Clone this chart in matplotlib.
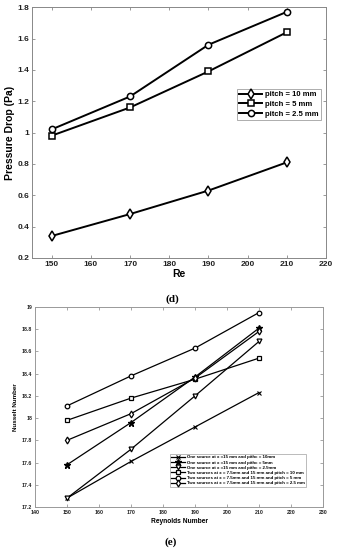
import matplotlib.pyplot as plt

# (d) pressure drop
re_d = [150, 170, 190, 210]
dp_pitch10 = [0.34, 0.48, 0.63, 0.81]
dp_pitch5 = [0.98, 1.16, 1.39, 1.64]
dp_pitch25 = [1.02, 1.23, 1.56, 1.77]
labels_d = ['pitch = 10 mm', 'pitch = 5 mm', 'pitch = 2.5 mm']
yticks_d = [0.2, 0.4, 0.6, 0.8, 1, 1.2, 1.4, 1.6, 1.8]
xticks_d = [150, 160, 170, 180, 190, 200, 210, 220]

# (e) Nusselt number
re_e = [150, 170, 190, 210]
nu_one10 = [17.28, 17.61, 17.92, 18.23]
nu_one5 = [17.58, 17.96, 18.37, 18.81]
nu_one25 = [17.28, 17.72, 18.20, 18.69]
nu_two10 = [17.98, 18.18, 18.35, 18.54]
nu_two5 = [18.11, 18.38, 18.63, 18.95]
nu_two25 = [17.80, 18.04, 18.36, 18.78]
labels_e = ['One source at x =15 mm and pithc = 10mm',
            'One source at x =15 mm and pithc = 5mm',
            'One source at x =15 mm and pithc = 2.5mm',
            'Two sources at x = 7.5mm and 15 mm and pitch = 10 mm',
            'Two sources at x = 7.5mm and 15 mm and pitch = 5 mm',
            'Two sources at x = 7.5mm and 15 mm and pitch = 2.5 mm']
yticks_e = [17.2, 17.4, 17.6, 17.8, 18, 18.2, 18.4, 18.6, 18.8, 19]
xticks_e = [140, 150, 160, 170, 180, 190, 200, 210, 220, 230]

plt.rcParams['font.family'] = ['Liberation Sans', 'DejaVu Sans']
fig = plt.figure(figsize=(3.38, 5.5), dpi=100)

def style_axes(ax, size, col):
    ax.tick_params(direction='in', top=True, right=True, labelsize=size,
                   colors=col, length=2.5, width=0.6, labelcolor='#222222', pad=2)
    for s in ax.spines.values():
        s.set_color(col)
        s.set_linewidth(0.7)

# ---- (d)
ax1 = fig.add_axes([0.0947, 0.531, 0.87, 0.456])
ax1.plot(re_d, dp_pitch10, '-d', color='k', lw=1.4, ms=5, mfc='white', mew=1.1, label=labels_d[0])
ax1.plot(re_d, dp_pitch5, '-s', color='k', lw=1.4, ms=4, mfc='white', mew=1.1, label=labels_d[1])
ax1.plot(re_d, dp_pitch25, '-o', color='k', lw=1.4, ms=4.5, mfc='white', mew=1.1, label=labels_d[2])
ax1.set_xlim(145, 220)
ax1.set_ylim(0.2, 1.8)
ax1.set_xticks(xticks_d)
ax1.set_yticks(yticks_d)
ax1.set_yticklabels([f'{v:g}' for v in yticks_d])
style_axes(ax1, 6, '#888888')
for t in ax1.get_xticklabels() + ax1.get_yticklabels():
    t.set_fontweight('bold')
ax1.set_xlabel('Re', fontsize=7.5, fontweight='bold', labelpad=1)
ax1.set_ylabel('Pressure Drop (Pa)', fontsize=7.5, fontweight='bold', labelpad=2)
leg = ax1.legend(loc='upper right', bbox_to_anchor=(0.997, 0.69),
                 prop={'weight': 'bold', 'size': 5.5}, frameon=True, fancybox=False,
                 edgecolor='#888888', handlelength=3, borderpad=0.3, labelspacing=0.3,
                 handletextpad=0.4)
leg.get_frame().set_linewidth(0.6)
fig.text(0.51, 1 - 299 / 550, '(d)', ha='center', va='center', fontsize=8,
         family='Liberation Serif', fontweight='bold')

# ---- (e)
ax2 = fig.add_axes([0.1036, 0.0782, 0.852, 0.3636])
lw = 0.9
ax2.plot(re_e, nu_one10, '-x', color='k', lw=lw, ms=3, mew=0.8, label=labels_e[0])
ax2.plot(re_e, nu_one5, '-*', color='k', lw=lw, ms=4.5, label=labels_e[1])
ax2.plot(re_e, nu_one25, '-v', color='k', lw=lw, ms=3.5, mfc='white', mew=0.9, label=labels_e[2])
ax2.plot(re_e, nu_two10, '-s', color='k', lw=lw, ms=3, mfc='white', mew=0.9, label=labels_e[3])
ax2.plot(re_e, nu_two5, '-o', color='k', lw=lw, ms=3.3, mfc='white', mew=0.9, label=labels_e[4])
ax2.plot(re_e, nu_two25, '-d', color='k', lw=lw, ms=3.5, mfc='white', mew=0.9, label=labels_e[5])
ax2.set_xlim(140, 230)
ax2.set_ylim(17.2, 19)
ax2.set_xticks(xticks_e)
ax2.set_yticks(yticks_e)
ax2.set_yticklabels([f'{v:g}' for v in yticks_e])
style_axes(ax2, 3.8, '#999999')
for t in ax2.get_xticklabels() + ax2.get_yticklabels():
    t.set_fontweight('bold')
ax2.set_xlabel('Reynolds Number', fontsize=4.8, fontweight='bold', labelpad=2)
ax2.set_ylabel('Nusselt Number', fontsize=4.5, fontweight='bold', labelpad=3)
leg2 = ax2.legend(loc='lower right', bbox_to_anchor=(0.95, 0.09),
                  prop={'weight': 'bold', 'size': 3.2}, frameon=True, fancybox=False,
                  edgecolor='#888888', handlelength=3.2, borderpad=0.3, labelspacing=0.25,
                  handletextpad=0.4)
leg2.get_frame().set_linewidth(0.5)
fig.text(0.505, 1 - 542 / 550, '(e)', ha='center', va='center', fontsize=8,
         family='Liberation Serif', fontweight='bold')

fig.savefig('out.png', dpi=100)
